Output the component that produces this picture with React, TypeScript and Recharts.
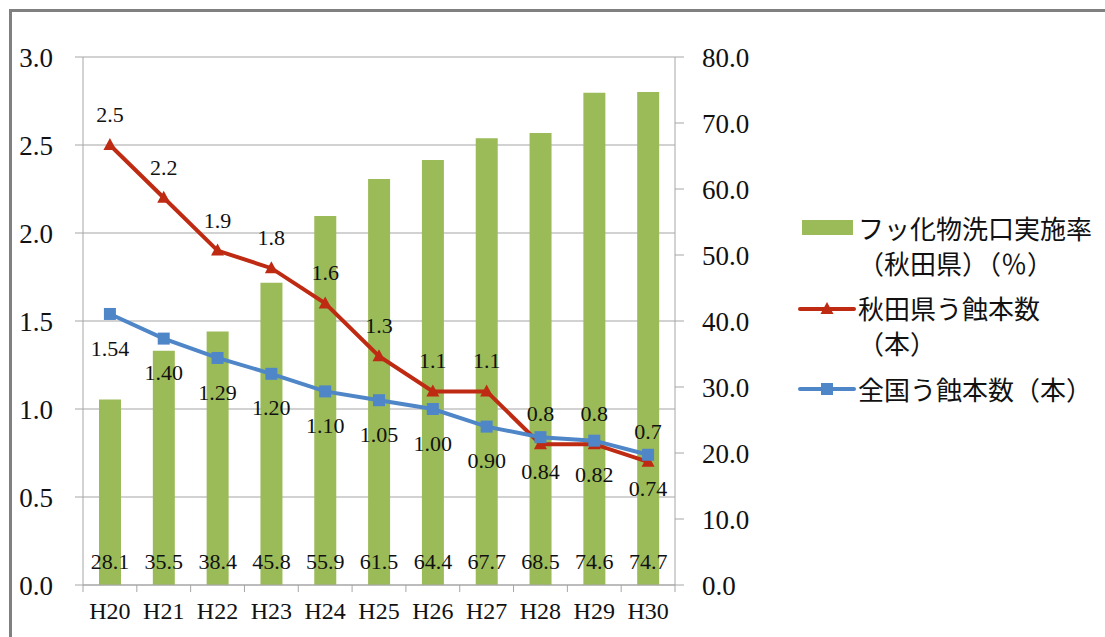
import React from "react";
import {
  ComposedChart, Bar, Line, XAxis, YAxis, CartesianGrid, LabelList,
} from "recharts";

const years = ["H20", "H21", "H22", "H23", "H24", "H25", "H26", "H27", "H28", "H29", "H30"];
const rinseRate = [28.1, 35.5, 38.4, 45.8, 55.9, 61.5, 64.4, 67.7, 68.5, 74.6, 74.7];
const akitaCaries = [2.5, 2.2, 1.9, 1.8, 1.6, 1.3, 1.1, 1.1, 0.8, 0.8, 0.7];
const nationalCaries = [1.54, 1.4, 1.29, 1.2, 1.1, 1.05, 1.0, 0.9, 0.84, 0.82, 0.74];

const leftTicks = [0, 0.5, 1, 1.5, 2, 2.5, 3];
const rightTicks = [0, 10, 20, 30, 40, 50, 60, 70, 80];

const GREEN = "#9BBB59";
const RED = "#BE2A12";
const BLUE = "#4F86C8";
const AXIS = "#a6a6a6";
const SERIF = "Liberation Serif, serif";
const JP_FONT = "'Noto Sans CJK JP', sans-serif";

const data = years.map((year, i) => ({
  year,
  rate: rinseRate[i],
  akita: akitaCaries[i],
  national: nationalCaries[i],
}));

// category ticks sit between the bars, like the source chart
const XTick = (props: any) => {
  const { x, y, payload, index, visibleTicksCount, width } = props;
  const half = payload?.offset ?? (width && visibleTicksCount ? width / visibleTicksCount / 2 : 26.9);
  const last = index === (visibleTicksCount ?? years.length) - 1;
  return (
    <g>
      <line x1={x - half} x2={x - half} y1={y} y2={y + 7} stroke={AXIS} />
      {last && <line x1={x + half} x2={x + half} y1={y} y2={y + 7} stroke={AXIS} />}
      <text x={x} y={y + 34} textAnchor="middle" fill="#111" fontSize={24} fontFamily={SERIF}>
        {payload.value}
      </text>
    </g>
  );
};

const Triangle = (props: any) => {
  const { cx, cy } = props;
  if (cx == null || cy == null) return <g />;
  return <path d={`M${cx},${cy - 7} L${cx + 6.5},${cy + 5} L${cx - 6.5},${cy + 5} Z`} fill={RED} />;
};

const Square = (props: any) => {
  const { cx, cy } = props;
  if (cx == null || cy == null) return <g />;
  return <rect x={cx - 6} y={cy - 6} width={12} height={12} fill={BLUE} />;
};

const labelStyle = { fontFamily: SERIF, fontSize: 22, fill: "#111" };

function LegendBox() {
  const text: React.CSSProperties = {
    position: "absolute", left: 858, fontFamily: JP_FONT, fontSize: 26,
    lineHeight: "35px", color: "#111", whiteSpace: "nowrap",
  };
  return (
    <>
      <div style={{ position: "absolute", left: 802, top: 220, width: 51, height: 15, background: GREEN }} />
      <div style={{ ...text, top: 210 }}>フッ化物洗口実施率<br />（秋田県）（％）</div>

      <svg style={{ position: "absolute", left: 798, top: 299 }} width={58} height={20}>
        <line x1={2} x2={56} y1={10} y2={10} stroke={RED} strokeWidth={4} strokeLinecap="round" />
        <path d="M29,3 L35.5,15 L22.5,15 Z" fill={RED} />
      </svg>
      <div style={{ ...text, top: 290 }}>秋田県う蝕本数<br />（本）</div>

      <svg style={{ position: "absolute", left: 798, top: 379 }} width={58} height={20}>
        <line x1={2} x2={56} y1={10} y2={10} stroke={BLUE} strokeWidth={4} strokeLinecap="round" />
        <rect x={23} y={4} width={12} height={12} fill={BLUE} />
      </svg>
      <div style={{ ...text, top: 371 }}>全国う蝕本数（本）</div>
    </>
  );
}

export default function App() {
  return (
    <div style={{ position: "absolute", left: 0, top: 0, width: 1105, height: 637, background: "#fff", overflow: "hidden" }}>
      <div style={{
        position: "absolute", left: 9, top: 9, right: -10, bottom: -10,
        borderTop: "3px solid #808080", borderLeft: "3px solid #808080",
      }} />
      <ComposedChart
        width={1105}
        height={637}
        data={data}
        margin={{ top: 57, right: 350, bottom: 12, left: 0 }}
        style={{ position: "absolute", left: 0, top: 0 }}
      >
        <CartesianGrid yAxisId="left" vertical={false} stroke={AXIS} strokeWidth={1.2} />
        <XAxis
          dataKey="year"
          height={40}
          stroke={AXIS}
          tickLine={false}
          tickSize={0}
          tickMargin={0}
          interval={0}
          tick={<XTick />}
        />
        <YAxis
          yAxisId="left"
          width={83}
          domain={[0, 3]}
          ticks={leftTicks}
          interval={0}
          stroke={AXIS}
          tickSize={8}
          tickMargin={22}
          tickFormatter={(v: number) => v.toFixed(1)}
          tick={{ fill: "#111", fontSize: 27, fontFamily: SERIF }}
        />
        <YAxis
          yAxisId="right"
          orientation="right"
          width={80}
          domain={[0, 80]}
          ticks={rightTicks}
          interval={0}
          stroke={AXIS}
          tickSize={9}
          tickMargin={18}
          tickFormatter={(v: number) => v.toFixed(1)}
          tick={{ fill: "#111", fontSize: 27, fontFamily: SERIF, textAnchor: "start" }}
        />
        <Bar yAxisId="right" dataKey="rate" fill={GREEN} barSize={22} isAnimationActive={false}>
          <LabelList
            dataKey="rate"
            position="insideBottom"
            offset={16}
            formatter={(v: any) => Number(v).toFixed(1)}
            style={labelStyle}
          />
        </Bar>
        <Line
          yAxisId="left"
          dataKey="akita"
          stroke={RED}
          strokeWidth={4}
          dot={<Triangle />}
          activeDot={false}
          isAnimationActive={false}
        >
          <LabelList
            dataKey="akita"
            position="top"
            offset={23}
            formatter={(v: any) => Number(v).toFixed(1)}
            style={labelStyle}
          />
        </Line>
        <Line
          yAxisId="left"
          dataKey="national"
          stroke={BLUE}
          strokeWidth={4}
          dot={<Square />}
          activeDot={false}
          isAnimationActive={false}
        >
          <LabelList
            dataKey="national"
            position="bottom"
            offset={26}
            formatter={(v: any) => Number(v).toFixed(2)}
            style={labelStyle}
          />
        </Line>
      </ComposedChart>
      <LegendBox />
    </div>
  );
}
